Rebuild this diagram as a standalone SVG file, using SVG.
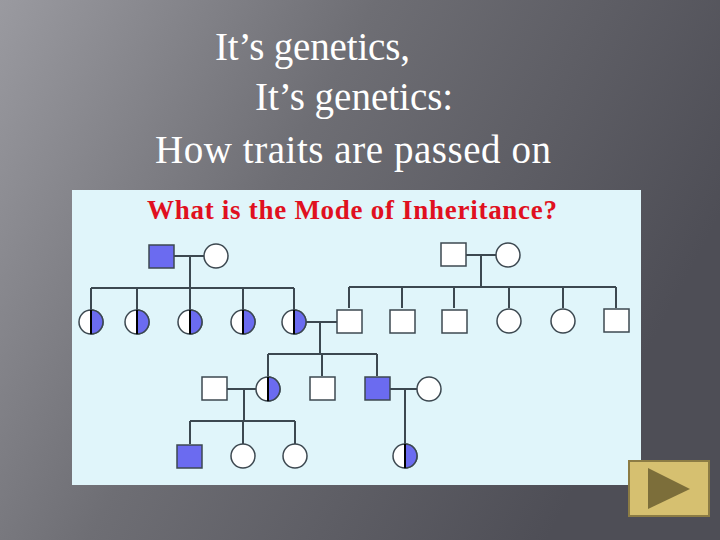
<svg xmlns="http://www.w3.org/2000/svg" width="720" height="540" viewBox="0 0 720 540">
<defs>
<linearGradient id="bg" x1="0" y1="0" x2="1" y2="0.4">
<stop offset="0" stop-color="#9a9aa0"/><stop offset="0.45" stop-color="#6e6e74"/><stop offset="1" stop-color="#4e4e56"/>
</linearGradient>
</defs>
<style>
.h{font-family:"Liberation Serif",serif;font-size:39px;fill:#fff}
.l{stroke:#3c4850;stroke-width:2;fill:none}
.w{fill:#fff;stroke:#3c4850;stroke-width:1.5}
.b{fill:#6b6bf0;stroke:#3c4850;stroke-width:1.5}
</style>
<rect width="720" height="540" fill="url(#bg)"/>
<text class="h" x="215" y="60" textLength="195">It’s genetics,</text>
<text class="h" x="255" y="110">It’s genetics:</text>
<text class="h" x="155" y="163" textLength="396">How traits are passed on</text>
<rect x="72" y="190" width="569" height="295" fill="#e0f5fa"/>
<text x="147" y="219" textLength="410" font-family="Liberation Serif,serif" font-weight="bold" font-size="27" fill="#e01020">What is the Mode of Inheritance?</text>
<g id="connectors" class="l">
<path d="M174 256H204M190 256V288M91 288H294M91 288V310M137 288V310M190 288V310M243 288V310M294 288V310"/>
<path d="M466 255H496M481 255V287M349 287H616M349 287V308M402 287V308M454 287V308M509 287V308M563 287V308M616 287V308"/>
<path d="M306 322H337M320 322V354M268 354H377M268 354V376M322 354V376M377 354V376"/>
<path d="M227 389H256M244 389V421M190 421H295M190 421V444M243 421V444M295 421V444"/>
<path d="M389 389H417M405 389V444"/>
</g>
<g id="gen1">
<rect id="m1" class="b" x="149" y="245" width="25" height="23"/>
<circle id="f1" class="w" cx="216" cy="256" r="12"/>
<rect id="m2" class="w" x="441" y="243" width="25" height="23"/>
<circle id="f2" class="w" cx="508" cy="255" r="12"/>
</g>
<g id="gen2">
<g id="c1" transform="translate(91,322)"><circle class="w" r="12"/><path class="b" d="M0-12A12 12 0 0 1 0 12Z"/><line y1="-12" y2="12" stroke="#000" stroke-width="2"/></g>
<g id="c2" transform="translate(137,322)"><circle class="w" r="12"/><path class="b" d="M0-12A12 12 0 0 1 0 12Z"/><line y1="-12" y2="12" stroke="#000" stroke-width="2"/></g>
<g id="c3" transform="translate(190,322)"><circle class="w" r="12"/><path class="b" d="M0-12A12 12 0 0 1 0 12Z"/><line y1="-12" y2="12" stroke="#000" stroke-width="2"/></g>
<g id="c4" transform="translate(243,322)"><circle class="w" r="12"/><path class="b" d="M0-12A12 12 0 0 1 0 12Z"/><line y1="-12" y2="12" stroke="#000" stroke-width="2"/></g>
<g id="c5" transform="translate(294,322)"><circle class="w" r="12"/><path class="b" d="M0-12A12 12 0 0 1 0 12Z"/><line y1="-12" y2="12" stroke="#000" stroke-width="2"/></g>
<rect id="s1" class="w" x="337" y="310" width="25" height="23"/>
<rect id="s2" class="w" x="390" y="310" width="25" height="23"/>
<rect id="s3" class="w" x="442" y="310" width="25" height="23"/>
<circle id="d1" class="w" cx="509" cy="321" r="12"/>
<circle id="d2" class="w" cx="563" cy="321" r="12"/>
<rect id="s4" class="w" x="604" y="309" width="25" height="23"/>
</g>
<g id="gen3">
<rect id="g3a" class="w" x="202" y="377" width="25" height="23"/>
<g id="g3b" transform="translate(268,389)"><circle class="w" r="12"/><path class="b" d="M0-12A12 12 0 0 1 0 12Z"/><line y1="-12" y2="12" stroke="#000" stroke-width="2"/></g>
<rect id="g3c" class="w" x="310" y="377" width="25" height="23"/>
<rect id="g3d" class="b" x="365" y="377" width="25" height="23"/>
<circle id="g3e" class="w" cx="429" cy="389" r="12"/>
</g>
<g id="gen4">
<rect id="g4a" class="b" x="177" y="445" width="25" height="23"/>
<circle id="g4b" class="w" cx="243" cy="456" r="12"/>
<circle id="g4c" class="w" cx="295" cy="456" r="12"/>
<g id="g4d" transform="translate(405,456)"><circle class="w" r="12"/><path class="b" d="M0-12A12 12 0 0 1 0 12Z"/><line y1="-12" y2="12" stroke="#000" stroke-width="2"/></g>
</g>
<g id="button">
<rect x="629" y="461" width="80" height="55" fill="#d6c070" stroke="#8c7c44" stroke-width="2"/>
<polygon points="648,468 690,489 648,509" fill="#7c6e3a"/>
</g>
</svg>
